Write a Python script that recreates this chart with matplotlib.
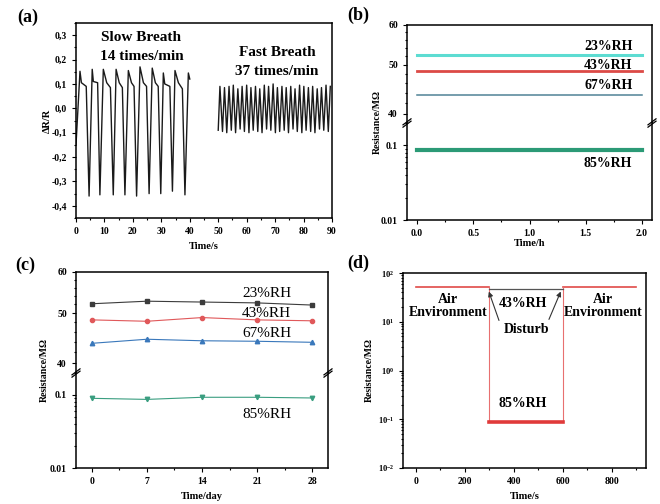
import matplotlib
matplotlib.use("Agg")
import matplotlib.pyplot as plt
from matplotlib.ticker import FixedLocator, FixedFormatter, MultipleLocator, NullFormatter, LogLocator

plt.rcParams['font.family'] = ['Liberation Serif', 'DejaVu Serif']
plt.rcParams['font.weight'] = 'bold'
plt.rcParams['axes.labelweight'] = 'bold'
plt.rcParams['mathtext.fontset'] = 'custom'
plt.rcParams['mathtext.rm'] = 'Liberation Serif:bold'
plt.rcParams['mathtext.default'] = 'rm'

# (a) breath response, vertices
slow_t = [0.0, 1.4, 1.9, 3.6, 4.6,
          5.7, 6.1, 7.6, 8.4,
          9.6, 10.8, 12.1, 13.1,
          14.1, 15.2, 16.3, 17.2,
          18.4, 19.5, 20.4, 21.3,
          22.5, 23.7, 24.8, 25.7,
          26.8, 27.9, 28.9, 29.8,
          30.7, 31.2, 33.0, 33.9,
          34.8, 36.0, 37.4, 38.3,
          39.5, 40.0]
slow_v = [-0.15, 0.152, 0.105, 0.09, -0.36,
          0.16, 0.11, 0.105, -0.355,
          0.16, 0.105, 0.085, -0.355,
          0.16, 0.105, 0.085, -0.355,
          0.155, 0.105, 0.09, -0.36,
          0.17, 0.105, 0.09, -0.35,
          0.165, 0.105, 0.09, -0.35,
          0.145, 0.10, 0.09, -0.34,
          0.155, 0.105, 0.08, -0.355,
          0.145, 0.12]
fast_t = [50.0, 50.6, 51.5, 52.2, 53.0, 53.8, 54.6, 55.3, 56.1, 56.9,
          57.7, 58.4, 59.2, 60.0, 60.8, 61.5, 62.3, 63.1, 63.9, 64.6,
          65.4, 66.2, 67.0, 67.7, 68.5, 69.3, 70.1, 70.8, 71.6, 72.4,
          73.2, 73.9, 74.7, 75.5, 76.3, 77.0, 77.8, 78.6, 79.4, 80.1,
          80.9, 81.7, 82.5, 83.2, 84.0, 84.8, 85.6, 86.3, 87.1, 87.9,
          88.7, 89.4]
fast_v = [-0.09, 0.09, -0.095, 0.085, -0.1, 0.09, -0.09, 0.095, -0.1, 0.08,
          -0.085, 0.09, -0.095, 0.095, -0.1, 0.085, -0.09, 0.09, -0.095, 0.08,
          -0.1, 0.095, -0.085, 0.09, -0.09, 0.1, -0.1, 0.085, -0.095, 0.09,
          -0.09, 0.085, -0.1, 0.09, -0.085, 0.08, -0.095, 0.095, -0.1, 0.09,
          -0.09, 0.085, -0.095, 0.09, -0.1, 0.08, -0.085, 0.085, -0.09, 0.095,
          -0.095, 0.09]

# (b) long-term resistance over 2 h
b_time = [0.0, 2.0]
b_rh23 = [52.4, 52.4]
b_rh43 = [48.5, 48.5]
b_rh67 = [43.6, 43.6]
b_rh85 = [0.088, 0.088]

# (c) stability over 28 days
c_days = [0, 7, 14, 21, 28]
c_rh23 = [52.1, 52.7, 52.5, 52.3, 51.8]
c_rh43 = [48.5, 48.2, 49.0, 48.5, 48.3]
c_rh67 = [43.7, 44.5, 44.2, 44.1, 43.9]
c_rh85 = [0.090, 0.087, 0.093, 0.093, 0.091]

# (d) disturb test
d_time = [0, 300, 300, 600, 600, 900]
d_res = [52, 52, 0.088, 0.088, 52, 52]
d_ref_time = [300, 600]
d_ref_res = [48, 48]

W, H = 660, 504
fig = plt.figure(figsize=(6.6, 5.04), dpi=100)


def px_axes(left, top, right, bottom):
    return fig.add_axes([left / W, 1 - bottom / H, (right - left) / W, (bottom - top) / H])


def style(ax):
    ax.tick_params(which='both', direction='out', top=False, right=False,
                   labelsize=7, width=0.8)
    ax.tick_params(which='major', length=3)
    ax.tick_params(which='minor', length=1.5)
    for s in ax.spines.values():
        s.set_linewidth(1.1)


def broken_axes(left, top, brk, right, bottom):
    top_ax = px_axes(left, top, right, brk)
    bot_ax = px_axes(left, brk, right, bottom)
    style(top_ax)
    style(bot_ax)
    top_ax.spines['bottom'].set_visible(False)
    bot_ax.spines['top'].set_visible(False)
    top_ax.tick_params(which='both', bottom=False, labelbottom=False)
    top_ax.set_yscale('log')
    top_ax.set_ylim(38.3, 60)
    top_ax.yaxis.set_major_locator(FixedLocator([40, 50, 60]))
    top_ax.yaxis.set_minor_locator(FixedLocator(list(range(42, 60, 2))))
    top_ax.yaxis.set_major_formatter(plt.FormatStrFormatter('%d'))
    top_ax.yaxis.set_minor_formatter(NullFormatter())
    bot_ax.set_yscale('log')
    bot_ax.set_ylim(0.01, 0.2)
    bot_ax.yaxis.set_major_locator(FixedLocator([0.01, 0.1]))
    bot_ax.yaxis.set_minor_locator(LogLocator(subs=range(2, 10)))
    bot_ax.yaxis.set_major_formatter(FixedFormatter(['0.01', '0.1']))
    bot_ax.yaxis.set_minor_formatter(NullFormatter())
    # break marks on both side spines
    dx = 4 / (right - left)
    dy = 3 / (bottom - brk)
    for x0 in (0, 1):
        for off in (-0.012, 0.012):
            bot_ax.plot([x0 - dx, x0 + dx], [1 + off - dy, 1 + off + dy],
                        transform=bot_ax.transAxes, color='black', lw=0.9, clip_on=False)
    return top_ax, bot_ax


# ---- (a)
ax = px_axes(76, 23, 332, 218)
style(ax)
ax.plot(slow_t, slow_v, color='#1a1a1a', lw=1.0)
ax.plot(fast_t, fast_v, color='#1a1a1a', lw=1.0)
ax.set_xlim(0, 90)
ax.set_ylim(-0.45, 0.35)
ax.xaxis.set_major_locator(MultipleLocator(10))
ax.xaxis.set_minor_locator(MultipleLocator(5))
ax.yaxis.set_major_locator(MultipleLocator(0.1))
ax.yaxis.set_minor_locator(MultipleLocator(0.05))
ax.yaxis.set_major_formatter(plt.FuncFormatter(lambda v, p: f'{v:.1f}'.replace('.', ',')))
ax.set_xlabel('Time/s', fontsize=7.5, labelpad=4)
ax.set_ylabel('ΔR/R', fontsize=7.5, labelpad=0)
ax.text(23, 0.29, 'Slow Breath', ha='center', va='center', fontsize=11)
ax.text(23, 0.212, '14 times/min', ha='center', va='center', fontsize=11)
ax.text(70.6, 0.23, 'Fast Breath', ha='center', va='center', fontsize=11)
ax.text(70.6, 0.152, '37 times/min', ha='center', va='center', fontsize=11)
fig.text(28 / W, 1 - 17 / H, '(a)', ha='center', va='center', fontsize=13)

# ---- (b)
bt, bb = broken_axes(407, 25, 123, 652, 220)
for a in (bt, bb):
    a.set_xlim(-0.09, 2.09)
bt.plot(b_time, b_rh23, color='#5ddcd2', lw=2.2)
bt.plot(b_time, b_rh43, color='#dc4a46', lw=2.0)
bt.plot(b_time, b_rh67, color='#4f8396', lw=1.1)
bb.plot(b_time, b_rh85, color='#2b9a76', lw=3.0)
bb.xaxis.set_major_locator(MultipleLocator(0.5))
bb.xaxis.set_minor_locator(MultipleLocator(0.25))
bb.xaxis.set_major_formatter(plt.FormatStrFormatter('%.1f'))
bt.text(1.70, 54.3, '23%RH', ha='center', va='center', fontsize=10)
bt.text(1.70, 49.9, '43%RH', ha='center', va='center', fontsize=10)
bt.text(1.70, 45.4, '67%RH', ha='center', va='center', fontsize=10)
bb.text(1.70, 0.057, '85%RH', ha='center', va='center', fontsize=10)
bb.set_xlabel('Time/h', fontsize=7.5, labelpad=1)
fig.text(377 / W, 1 - 122 / H, 'Resistance/MΩ', rotation=90, ha='center', va='center', fontsize=7)
fig.text(358 / W, 1 - 15 / H, '(b)', ha='center', va='center', fontsize=13)

# ---- (c)
ct, cb = broken_axes(76, 272, 373, 328, 468)
for a in (ct, cb):
    a.set_xlim(-2, 30)
ct.plot(c_days, c_rh23, color='#3c3c3c', lw=0.8, marker='s', ms=3)
ct.plot(c_days, c_rh43, color='#e0585a', lw=0.8, marker='o', ms=3)
ct.plot(c_days, c_rh67, color='#3a78bb', lw=0.8, marker='^', ms=3.2)
cb.plot(c_days, c_rh85, color='#3a9e80', lw=0.8, marker='v', ms=3.2)
cb.xaxis.set_major_locator(FixedLocator(c_days))
cb.xaxis.set_minor_locator(MultipleLocator(3.5))
ct.text(22.2, 54.6, '23%RH', ha='center', va='center', fontsize=11, fontweight='normal')
ct.text(22.2, 49.9, '43%RH', ha='center', va='center', fontsize=11, fontweight='normal')
ct.text(22.2, 45.6, '67%RH', ha='center', va='center', fontsize=11, fontweight='normal')
cb.text(22.2, 0.054, '85%RH', ha='center', va='center', fontsize=11, fontweight='normal')
cb.set_xlabel('Time/day', fontsize=7.5, labelpad=4)
fig.text(44 / W, 1 - 370 / H, 'Resistance/MΩ', rotation=90, ha='center', va='center', fontsize=7)
fig.text(25 / W, 1 - 265 / H, '(c)', ha='center', va='center', fontsize=13)

# ---- (d)
ad = px_axes(403, 273, 646, 468)
style(ad)
ad.set_yscale('log')
ad.set_ylim(0.01, 100)
ad.set_xlim(-53, 940)
ad.plot(d_time[0:2], d_res[0:2], color='#e04a48', lw=1.2)
ad.plot(d_time[4:6], d_res[4:6], color='#e04a48', lw=1.2)
ad.plot(d_time[1:3], d_res[1:3], color='#e87070', lw=0.8)
ad.plot(d_time[3:5], d_res[3:5], color='#e87070', lw=0.8)
ad.plot(d_time[2:4], d_res[2:4], color='#e03a3a', lw=2.6)
ad.plot(d_ref_time, d_ref_res, color='#555555', lw=0.9)
ad.xaxis.set_major_locator(MultipleLocator(200))
ad.xaxis.set_minor_locator(MultipleLocator(100))
ad.yaxis.set_minor_locator(LogLocator(subs=range(2, 10)))
ad.yaxis.set_minor_formatter(NullFormatter())
ad.tick_params(axis='y', labelsize=6)
ad.text(131, 21.5, 'Air\nEnvironment', ha='center', va='center', fontsize=10, linespacing=1.0)
ad.text(763, 21.5, 'Air\nEnvironment', ha='center', va='center', fontsize=10, linespacing=1.0)
ad.text(437, 24, '43%RH', ha='center', va='center', fontsize=10)
ad.text(453, 6.8, 'Disturb', ha='center', va='center', fontsize=10)
ad.text(437, 0.215, '85%RH', ha='center', va='center', fontsize=10)
ad.annotate('', xy=(294, 47), xytext=(343, 9.4),
            arrowprops=dict(arrowstyle='-|>', color='#333333', lw=0.8, mutation_scale=7))
ad.annotate('', xy=(596, 47), xytext=(539, 9.9),
            arrowprops=dict(arrowstyle='-|>', color='#333333', lw=0.8, mutation_scale=7))
ad.set_xlabel('Time/s', fontsize=7.5, labelpad=4)
ad.set_ylabel('Resistance/MΩ', fontsize=7, labelpad=3)
fig.text(358 / W, 1 - 263 / H, '(d)', ha='center', va='center', fontsize=13)

fig.savefig('out.png', dpi=100)
